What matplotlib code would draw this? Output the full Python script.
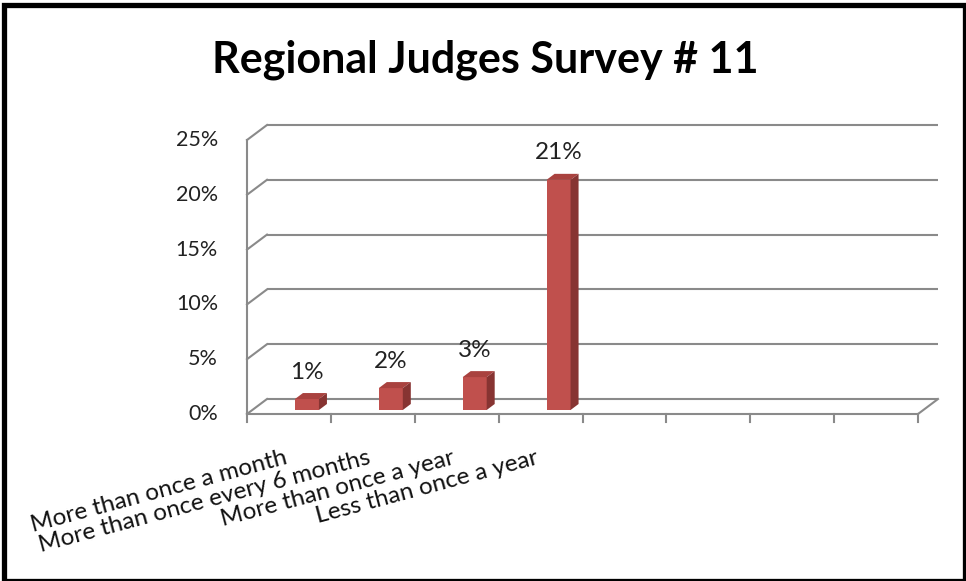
import matplotlib
matplotlib.use('Agg')
import matplotlib.pyplot as plt
from matplotlib.patches import Polygon, Rectangle

# dados
categorias = ['More than once a month', 'More than once every 6 months',
              'More than once a year', 'Less than once a year']
valores = [1, 2, 3, 21]
rotulos = ['1%', '2%', '3%', '21%']
n_slots = 8
y_ticks = [0, 5, 10, 15, 20, 25]
y_labels = ['0%', '5%', '10%', '15%', '20%', '25%']

plt.rcParams['font.family'] = ['Lato', 'DejaVu Sans']

fig = plt.figure(figsize=(9.66, 5.81), dpi=100)

# escala em pixels -> unidades de dados
px_cat = 83.875      # pixels por categoria
px_pct = 10.96       # pixels por ponto percentual
x0_px, y0_px = 247, 414
ax = fig.add_axes([0, 0, 1, 1])
ax.set_xlim(-x0_px / px_cat, (966 - x0_px) / px_cat)
ax.set_ylim((y0_px - 581) / px_pct, y0_px / px_pct)
ax.axis('off')

# profundidade do "3D"
dx, dy = 20 / px_cat, 15 / px_pct
grade = '#8a8a8a'
lw = 1.5

# parede do fundo + parede lateral
for v in y_ticks:
    ax.plot([dx, n_slots + dx], [v + dy, v + dy], color=grade, lw=lw, solid_capstyle='butt')
    ax.plot([0, dx], [v, v + dy], color=grade, lw=lw)
ax.plot([0, 0], [0, y_ticks[-1]], color=grade, lw=lw)
# chao
ax.plot([0, n_slots], [0, 0], color=grade, lw=lw)
ax.plot([n_slots, n_slots + dx], [0, dy], color=grade, lw=lw)
for k in range(n_slots + 1):
    ax.plot([k, k], [0, -8 / px_pct], color=grade, lw=lw)

# barras 3D
larg = 24 / px_cat
desl = 18 / px_cat
base = 4 / px_pct
bdx, bdy = 8 / px_cat, 6 / px_pct
for i, v in enumerate(valores):
    xc = i + 0.5 + desl
    xl, xr = xc - larg / 2, xc + larg / 2
    top = base + v
    ax.add_patch(Rectangle((xl, base), larg, v, facecolor='#C0504D', edgecolor='none', zorder=3))
    ax.add_patch(Polygon([(xl, top), (xr, top), (xr + bdx, top + bdy), (xl + bdx, top + bdy)],
                         facecolor='#A9423F', edgecolor='none', zorder=3))
    ax.add_patch(Polygon([(xr, base), (xr + bdx, base + bdy), (xr + bdx, top + bdy), (xr, top)],
                         facecolor='#873432', edgecolor='none', zorder=3))
    ax.text(xc, top + 27 / px_pct, rotulos[i], ha='center', va='center',
            fontsize=17.5, color='#222222')

# rotulos eixo y
for v, lab in zip(y_ticks, y_labels):
    ax.text(-29 / px_cat, v, lab, ha='right', va='center', fontsize=15.5, color='#222222')

# rotulos eixo x
for i, c in enumerate(categorias):
    ax.text(i + 0.5 - 1 / px_cat, -50 / px_pct, c, ha='right', va='baseline',
            rotation=15, rotation_mode='anchor', fontsize=17.5, color='#111111')

# titulo
fig.text(0.5 * (213 + 758) / 966, 1 - 73 / 581, 'Regional Judges Survey # 11',
         ha='center', va='baseline', fontsize=31, fontweight='bold', color='black')

# moldura
fig.patches.append(Rectangle((3.5 / 966, 0), 961 / 966, 1 - 4.5 / 581, transform=fig.transFigure,
                             fill=False, edgecolor='black', lw=3.8, clip_on=False))

fig.savefig('out.png', dpi=100)
